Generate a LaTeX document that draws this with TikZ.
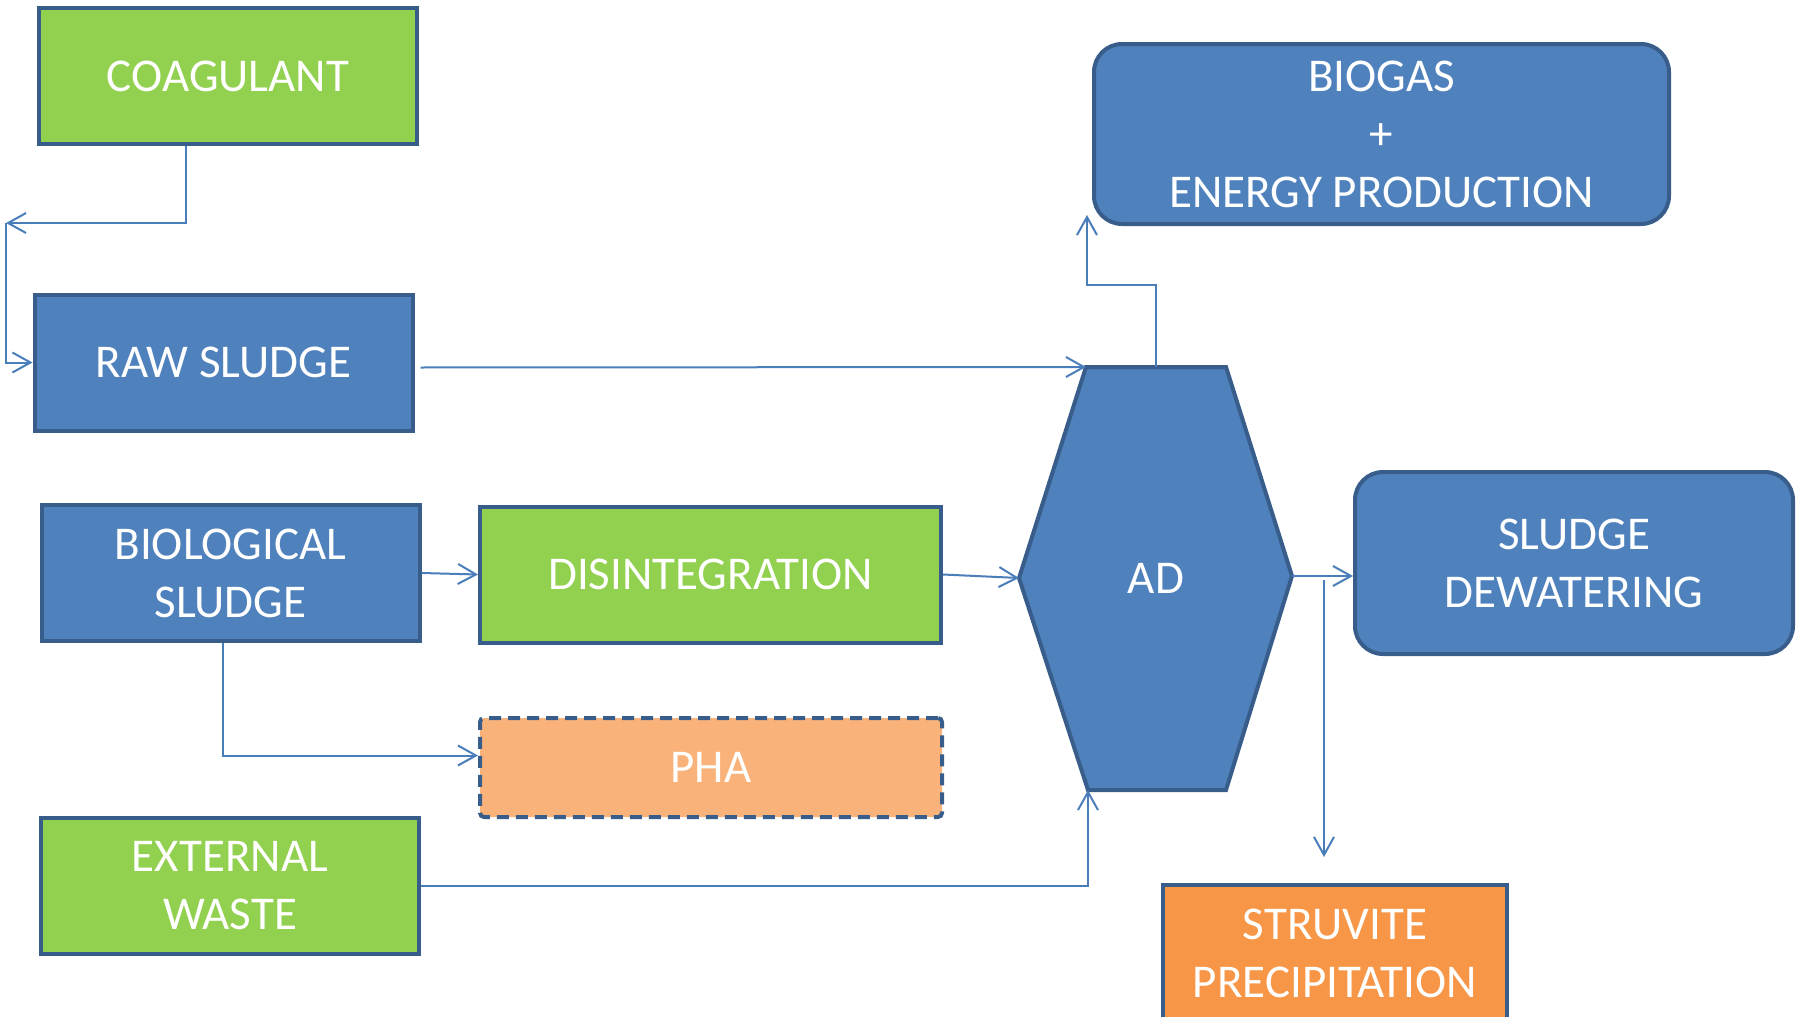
\documentclass[tikz,border=0pt]{standalone}
\usepackage{fontspec}
\setmainfont{Carlito}
\usetikzlibrary{arrows.meta, positioning}
\definecolor{boxblue}{HTML}{4F81BD}
\definecolor{edgeblue}{HTML}{385D8A}
\definecolor{boxgreen}{HTML}{92D050}
\definecolor{boxorange}{HTML}{F79646}
\definecolor{linkblue}{HTML}{4A7EBB}
\begin{document}
\begin{tikzpicture}[x=0.5pt, y=-0.5pt, >={Straight Barb[length=9pt,width=10pt]}, font=\fontsize{23.5}{29}\selectfont, box/.style={draw=edgeblue, line width=2pt, text=white, align=center, inner sep=0pt, minimum width=189pt, minimum height=68pt}, flow/.style={->, draw=linkblue, line width=1pt}]
\useasboundingbox (0,0) rectangle (1796,1017);
\node[box, fill=boxgreen] (coag) at (228,76) {COAGULANT};
\node[box, fill=boxblue] (raw) at (223.5,362.5) {RAW SLUDGE};
\node[box, fill=boxblue] (bio) at (230.5,573) {BIOLOGICAL\\SLUDGE};
\node[box, fill=boxgreen, minimum width=230.5pt] (disint) at (710.5,574.5) {DISINTEGRATION};
\node[box, fill=boxorange!72!white, dash pattern=on 6pt off 3.5pt, rounded corners=2pt, minimum width=231pt, minimum height=49.5pt] (pha) at (711,767.5) {PHA};
\node[box, fill=boxgreen] (ext) at (230,885.5) {EXTERNAL\\WASTE};
\node[box, fill=boxblue, rounded corners=14pt, minimum width=287.5pt, minimum height=90pt] (gas) at (1381.5,134) {BIOGAS\\+\\ENERGY PRODUCTION};
\node[box, fill=boxblue, rounded corners=14pt, minimum width=219pt, minimum height=91pt] (dewater) at (1574,563) {SLUDGE\\DEWATERING};
\node[box, fill=boxorange, minimum width=172pt] (struv) at (1335,953) {STRUVITE\\PRECIPITATION};
% digester
\coordinate (ad-tl) at (1086,367);
\coordinate (ad-t) at (1156,367);
\coordinate (ad-tr) at (1226,367);
\coordinate (ad-r) at (1292,576);
\coordinate (ad-br) at (1226,790);
\coordinate (ad-bl) at (1088,790);
\coordinate (ad-l) at (1019,578);
\draw[draw=edgeblue, line width=2pt, fill=boxblue] (ad-tl) -- (ad-tr) -- (ad-r) -- (ad-br) -- (ad-bl) -- (ad-l) -- cycle;
\node[text=white] (ad) at (1156,578) {AD};
\coordinate (split) at (6,223);
\coordinate (gas-in) at (1087,215);
\coordinate (tap) at (1324,580);
\coordinate (struv-in) at (1324,857);
\draw[flow] ([xshift=-21pt]coag.south) |- (split);
\draw[flow] (split) |- (raw.west);
\draw[flow] ([xshift=3pt, yshift=-2.5pt]raw.east) -- (ad-tl);
\draw[flow] (bio.east) -- (disint.west);
\draw[flow] (disint.east) -- (ad-l);
\draw[flow] ([xshift=-4pt]bio.south) |- ([yshift=6pt]pha.west);
\draw[flow] (ext.east) -| (ad-bl);
\draw[flow] (ad-t) -- ++(0,-82) -| (gas-in);
\draw[flow] (ad-r) -- (ad-r -| dewater.west);
\draw[flow] (tap) -- (struv-in);
\end{tikzpicture}
\end{document}
